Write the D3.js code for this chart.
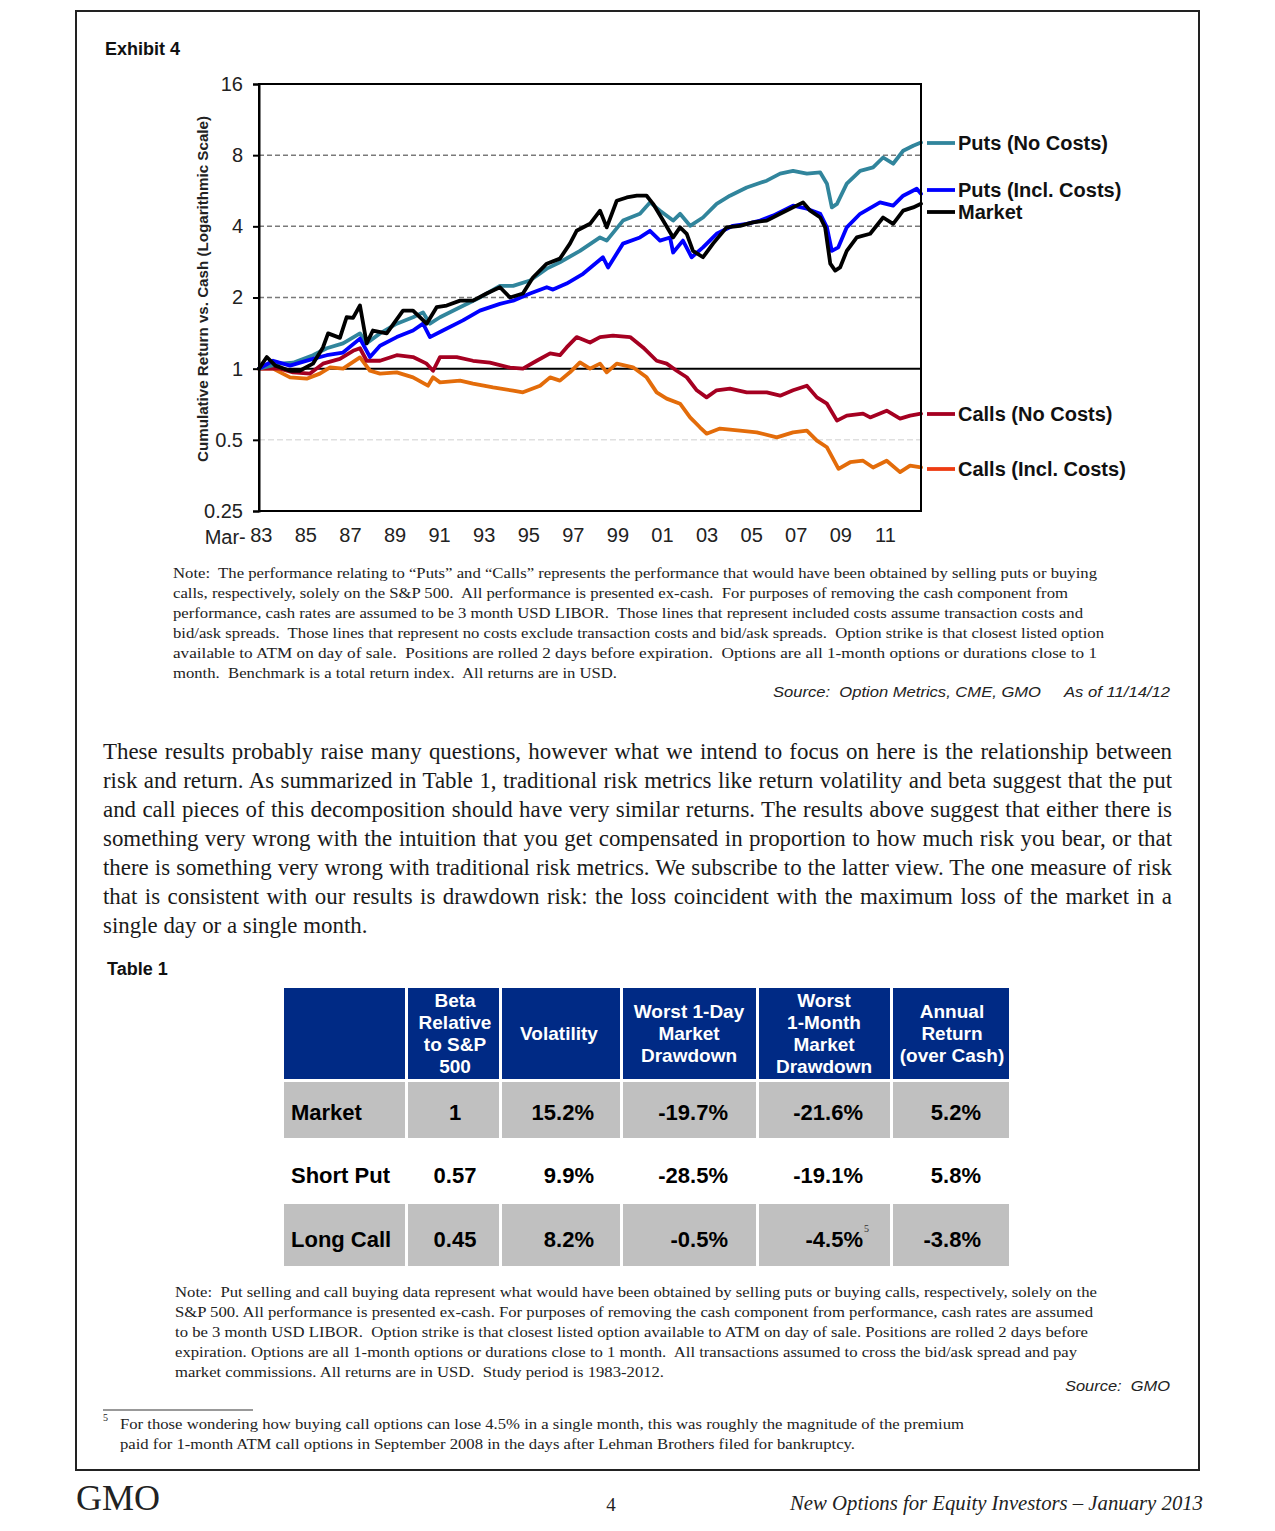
<!DOCTYPE html>
<html><head><meta charset="utf-8">
<script src="https://cdn.jsdelivr.net/npm/d3@7"></script>
<style>
html,body{margin:0;padding:0;background:#fff;}
svg{display:block;}
svg text{white-space:pre;}
</style></head>
<body>
<svg id="page" width="1275" height="1531"></svg>
<script>
// ---------- DATA ----------
const seriesNames = ["Puts (No Costs)","Puts (Incl. Costs)","Market","Calls (No Costs)","Calls (Incl. Costs)"];
const putsNoCosts = [[1983.17,1.00],[1984.11,1.05],[1984.7,1.06],[1985.59,1.14],[1986.21,1.22],[1986.94,1.28],[1987.7,1.41],[1988.0,1.28],[1988.6,1.41],[1989.35,1.55],[1990.08,1.65],[1990.53,1.73],[1990.84,1.55],[1991.29,1.65],[1992.19,1.82],[1993.08,2.00],[1993.98,2.24],[1994.57,2.24],[1995.33,2.36],[1996.08,2.65],[1996.67,2.82],[1997.57,3.15],[1998.47,3.59],[1998.77,3.48],[1999.5,4.23],[2000.26,4.52],[2000.71,5.05],[2001.16,4.66],[2001.75,4.23],[2002.06,4.52],[2002.51,4.02],[2003.09,4.36],[2003.7,4.98],[2004.3,5.39],[2005.05,5.84],[2005.95,6.24],[2006.55,6.68],[2007.13,6.87],[2007.75,6.68],[2008.35,6.76],[2008.65,6.06],[2008.87,4.81],[2009.1,4.98],[2009.54,6.06],[2010.14,6.87],[2010.72,7.10],[2011.17,7.82],[2011.62,7.36],[2012.07,8.35],[2012.52,8.77],[2012.87,9.05]];
const putsInclCosts = [[1983.17,1.00],[1983.8,1.08],[1984.56,1.03],[1985.59,1.10],[1986.21,1.14],[1986.94,1.17],[1987.7,1.34],[1988.15,1.12],[1988.6,1.25],[1989.35,1.36],[1990.08,1.45],[1990.53,1.55],[1990.84,1.36],[1991.42,1.45],[1992.32,1.60],[1993.08,1.76],[1993.98,1.88],[1994.57,1.94],[1995.33,2.08],[1996.08,2.21],[1996.36,2.16],[1996.97,2.29],[1997.71,2.52],[1998.6,2.96],[1998.83,2.68],[1999.5,3.38],[2000.26,3.59],[2000.71,3.83],[2001.16,3.48],[2001.61,3.59],[2001.75,3.10],[2002.19,3.48],[2002.58,2.96],[2003.09,3.26],[2003.7,3.72],[2004.43,4.02],[2005.05,4.10],[2005.65,4.23],[2006.23,4.44],[2007.13,4.89],[2007.75,4.75],[2008.35,4.52],[2008.65,3.96],[2008.87,3.15],[2009.16,3.26],[2009.54,3.96],[2010.14,4.52],[2011.03,5.05],[2011.62,4.89],[2012.07,5.39],[2012.68,5.77],[2012.87,5.49]];
const market = [[1983.17,1.00],[1983.52,1.12],[1983.9,1.03],[1984.56,0.98],[1985.0,0.98],[1985.59,1.05],[1986.04,1.23],[1986.27,1.41],[1986.8,1.35],[1987.1,1.65],[1987.39,1.64],[1987.7,1.85],[1988.0,1.28],[1988.28,1.45],[1988.9,1.41],[1989.63,1.76],[1990.08,1.76],[1990.69,1.55],[1991.14,1.82],[1991.59,1.85],[1992.19,1.94],[1992.77,1.94],[1993.38,2.08],[1993.98,2.21],[1994.43,2.00],[1995.01,2.08],[1995.46,2.43],[1996.08,2.78],[1996.67,2.92],[1997.12,3.38],[1997.42,3.83],[1998.02,4.10],[1998.47,4.66],[1998.77,3.96],[1999.22,5.13],[1999.67,5.30],[2000.12,5.39],[2000.56,5.39],[2000.85,4.98],[2001.3,4.23],[2001.75,3.59],[2002.06,3.96],[2002.36,3.72],[2002.64,3.15],[2003.09,2.96],[2003.54,3.38],[2004.15,3.96],[2004.75,4.02],[2005.33,4.16],[2005.95,4.23],[2006.55,4.52],[2007.13,4.81],[2007.58,5.05],[2007.9,4.66],[2008.35,4.36],[2008.57,3.96],[2008.8,2.78],[2009.02,2.60],[2009.24,2.68],[2009.54,3.15],[2009.99,3.59],[2010.59,3.72],[2011.17,4.36],[2011.62,4.10],[2012.07,4.66],[2012.52,4.81],[2012.87,4.98]];
const callsNoCosts = [[1983.17,1.00],[1984.11,1.00],[1984.7,0.965],[1985.46,0.953],[1986.04,1.05],[1986.8,1.10],[1987.39,1.19],[1987.7,1.22],[1988.0,1.08],[1988.6,1.08],[1989.35,1.14],[1990.08,1.12],[1990.69,1.05],[1990.98,0.98],[1991.29,1.12],[1992.04,1.12],[1992.77,1.08],[1993.53,1.06],[1994.43,1.01],[1995.01,1.00],[1995.63,1.08],[1996.23,1.16],[1996.67,1.14],[1996.97,1.23],[1997.42,1.36],[1998.02,1.29],[1998.47,1.36],[1999.05,1.38],[1999.82,1.36],[2000.4,1.23],[2001.01,1.08],[2001.46,1.05],[2001.91,0.98],[2002.36,0.92],[2002.81,0.81],[2003.25,0.756],[2003.7,0.81],[2004.3,0.823],[2005.05,0.794],[2005.95,0.794],[2006.55,0.769],[2007.13,0.81],[2007.75,0.847],[2008.2,0.756],[2008.65,0.711],[2009.1,0.603],[2009.54,0.633],[2010.27,0.645],[2010.59,0.622],[2011.33,0.664],[2011.93,0.615],[2012.38,0.633],[2012.87,0.645]];
const callsInclCosts = [[1983.17,1.00],[1983.8,1.00],[1984.56,0.919],[1985.31,0.907],[1985.9,0.953],[1986.36,1.013],[1986.94,1.00],[1987.7,1.116],[1988.15,0.98],[1988.6,0.953],[1989.35,0.965],[1990.08,0.919],[1990.75,0.847],[1990.98,0.919],[1991.29,0.875],[1992.19,0.89],[1992.77,0.864],[1993.67,0.833],[1994.57,0.807],[1995.01,0.794],[1995.78,0.847],[1996.23,0.919],[1996.67,0.89],[1997.12,0.965],[1997.57,1.063],[1998.02,1.00],[1998.47,1.05],[1998.77,0.965],[1999.22,1.05],[1999.95,1.013],[2000.56,0.919],[2001.01,0.794],[2001.46,0.747],[2002.06,0.711],[2002.51,0.622],[2002.95,0.565],[2003.25,0.531],[2003.85,0.558],[2004.75,0.547],[2005.5,0.538],[2006.4,0.512],[2007.13,0.538],[2007.75,0.547],[2008.2,0.496],[2008.65,0.465],[2009.17,0.377],[2009.69,0.402],[2010.27,0.408],[2010.72,0.382],[2011.33,0.408],[2011.93,0.365],[2012.38,0.389],[2012.87,0.382]];
const yTickValues = [0.25,0.5,1,2,4,8,16];
const yTickLabels = ["0.25","0.5","1","2","4","8","16"];
const xTickYears = [1983,1985,1987,1989,1991,1993,1995,1997,1999,2001,2003,2005,2007,2009,2011];
const xTickLabels = ["83","85","87","89","91","93","95","97","99","01","03","05","07","09","11"];

const tableRowLabels = ["Market","Short Put","Long Call"];
const tableHeaders = [["Beta","Relative","to S&P","500"],["Volatility"],["Worst 1-Day","Market","Drawdown"],["Worst","1-Month","Market","Drawdown"],["Annual","Return","(over Cash)"]];
const betaCol = ["1","0.57","0.45"];
const volatilityCol = ["15.2%","9.9%","8.2%"];
const worstDayCol = ["-19.7%","-28.5%","-0.5%"];
const worstMonthCol = ["-21.6%","-19.1%","-4.5%"];
const annualReturnCol = ["5.2%","5.8%","-3.8%"];

// ---------- PAGE ----------
const svg = d3.select("#page");
const SANS = "'Liberation Sans', Arial, sans-serif";
const SERIF = "'Liberation Serif', 'Times New Roman', serif";
svg.append("rect").attr("width",1275).attr("height",1531).attr("fill","#fff");
svg.append("rect").attr("x",76).attr("y",11).attr("width",1123).attr("height",1459)
  .attr("fill","none").attr("stroke","#222").attr("stroke-width",2);

svg.append("text").attr("x",105).attr("y",55).attr("font-family",SANS).attr("font-weight","bold")
  .attr("font-size",18).attr("fill","#111").text("Exhibit 4");

// ---------- CHART ----------
const L=259,R=921,T=84,B=511;
const x = d3.scaleLinear().domain([1983.17, 2012.87]).range([L,R]);
const y = d3.scaleLog().base(2).domain([0.25,16]).range([B,T]);
const chart = svg.append("g");

[8,4,2].forEach(v=>{
  chart.append("line").attr("x1",L).attr("x2",R).attr("y1",y(v)).attr("y2",y(v))
    .attr("stroke","#7a7a7a").attr("stroke-width",1.5).attr("stroke-dasharray","5,3");
});
chart.append("line").attr("x1",L).attr("x2",R).attr("y1",y(0.5)).attr("y2",y(0.5))
  .attr("stroke","#cfcfcf").attr("stroke-width",1).attr("stroke-dasharray","6,3");
chart.append("line").attr("x1",L).attr("x2",R).attr("y1",y(1)).attr("y2",y(1))
  .attr("stroke","#000").attr("stroke-width",2);

const lineGen = d3.line().x(d=>x(d[0])).y(d=>y(d[1])).curve(d3.curveLinear);
const series = [
  {name:seriesNames[4], data:callsInclCosts, color:"#E36C0A", marker:"#EE3C12", ly:469},
  {name:seriesNames[3], data:callsNoCosts, color:"#A50021", marker:"#A50021", ly:414},
  {name:seriesNames[0], data:putsNoCosts, color:"#31859C", marker:"#31859C", ly:143},
  {name:seriesNames[1], data:putsInclCosts, color:"#0000FF", marker:"#0000FF", ly:190},
  {name:seriesNames[2], data:market, color:"#000000", marker:"#000000", ly:212}
];
series.forEach(s=>{
  chart.append("path").datum(s.data).attr("d",lineGen).attr("fill","none")
    .attr("stroke",s.color).attr("stroke-width",3.8).attr("stroke-linejoin","round").attr("stroke-linecap","round");
});

chart.append("rect").attr("x",L).attr("y",T).attr("width",R-L).attr("height",B-T)
  .attr("fill","none").attr("stroke","#000").attr("stroke-width",2);

const yAxis = d3.axisLeft(y).tickValues(yTickValues).tickFormat((d,i)=>yTickLabels[i]).tickSize(6).tickPadding(10);
const gy = chart.append("g").attr("transform",`translate(${L},0)`).call(yAxis);
gy.select(".domain").attr("stroke","#000").attr("stroke-width",2);
gy.selectAll(".tick line").attr("stroke","#000").attr("stroke-width",2);
gy.selectAll(".tick text").attr("font-family",SANS).attr("font-size",20).attr("fill","#222");

const xAxis = d3.axisBottom(x).tickValues(xTickYears.map(v=>v+0.25)).tickFormat((d,i)=>xTickLabels[i]).tickSize(0).tickPadding(17);
const gx = chart.append("g").attr("transform",`translate(0,${B})`).call(xAxis);
gx.select(".domain").remove();
gx.selectAll(".tick text").attr("font-family",SANS).attr("font-size",20).attr("fill","#222");
chart.append("text").attr("x",x(1983.25)-15).attr("y",B+33).attr("text-anchor","end")
  .attr("font-family",SANS).attr("font-size",20).attr("fill","#222").text("Mar-");

chart.append("text").attr("transform",`translate(208,289) rotate(-90)`).attr("text-anchor","middle")
  .attr("font-family",SANS).attr("font-weight","bold").attr("font-size",14).attr("fill","#222")
  .attr("textLength",346).attr("lengthAdjust","spacingAndGlyphs")
  .text("Cumulative Return vs. Cash (Logarithmic Scale)");

series.forEach(s=>{
  chart.append("line").attr("x1",927).attr("x2",955).attr("y1",s.ly).attr("y2",s.ly)
    .attr("stroke",s.marker).attr("stroke-width",3.8);
  chart.append("text").attr("x",958).attr("y",s.ly+7).attr("font-family",SANS).attr("font-weight","bold")
    .attr("font-size",20).attr("fill","#111").text(s.name);
});

// ---------- TEXT HELPERS ----------
function fitText(str, x0, yb, x1, size, fam, opts={}){
  const t = svg.append("text").attr("x",x0).attr("y",yb).attr("font-family",fam).attr("font-size",size)
    .attr("fill",opts.fill||"#222").text(str);
  if(opts.italic) t.attr("font-style","italic");
  if(x1) t.attr("textLength",x1-x0).attr("lengthAdjust","spacingAndGlyphs");
  return t;
}
function justify(str, x0, yb, x1, size, fam){
  const t = svg.append("text").attr("x",x0).attr("y",yb).attr("font-family",fam).attr("font-size",size)
    .attr("fill","#1a1a1a").text(str);
  const w = t.node().getComputedTextLength();
  const n = (str.match(/ /g)||[]).length;
  if(n>0) t.style("word-spacing",((x1-x0-w)/n)+"px");
  return t;
}

const note1 = [
 ["Note:  The performance relating to \u201cPuts\u201d and \u201cCalls\u201d represents the performance that would have been obtained by selling puts or buying",1097],
 ["calls, respectively, solely on the S&P 500.  All performance is presented ex-cash.  For purposes of removing the cash component from",1068],
 ["performance, cash rates are assumed to be 3 month USD LIBOR.  Those lines that represent included costs assume transaction costs and",1083],
 ["bid/ask spreads.  Those lines that represent no costs exclude transaction costs and bid/ask spreads.  Option strike is that closest listed option",1104],
 ["available to ATM on day of sale.  Positions are rolled 2 days before expiration.  Options are all 1-month options or durations close to 1",1097],
 ["month.  Benchmark is a total return index.  All returns are in USD.",617]
];
note1.forEach((l,i)=>fitText(l[0],173,578+i*20,l[1],15,SERIF));
fitText("Source:  Option Metrics, CME, GMO",773,697,1041,15,SANS,{italic:true});
fitText("As of 11/14/12",1064,697,1170,15,SANS,{italic:true});

const para = [
 "These results probably raise many questions, however what we intend to focus on here is the relationship between",
 "risk and return. As summarized in Table 1, traditional risk metrics like return volatility and beta suggest that the put",
 "and call pieces of this decomposition should have very similar returns. The results above suggest that either there is",
 "something very wrong with the intuition that you get compensated in proportion to how much risk you bear, or that",
 "there is something very wrong with traditional risk metrics. We subscribe to the latter view. The one measure of risk",
 "that is consistent with our results is drawdown risk: the loss coincident with the maximum loss of the market in a"
];
para.forEach((l,i)=>justify(l,103,759+i*29,1172,22.9,SERIF));
svg.append("text").attr("x",103).attr("y",759+6*29).attr("font-family",SERIF).attr("font-size",22.9)
  .attr("fill","#1a1a1a").text("single day or a single month.");

// ---------- TABLE ----------
svg.append("text").attr("x",107).attr("y",975).attr("font-family",SANS).attr("font-weight","bold")
  .attr("font-size",18).attr("fill","#111").text("Table 1");
const colEdges = [284,406,500,621,757,891,1009];
const tg = svg.append("g");
tg.append("rect").attr("x",284).attr("y",988).attr("width",1009-284).attr("height",91).attr("fill","#002A85");
const rowTops = [1082,1141,1204], rowBots=[1138,1201,1266], rowFill=["#C0C0C0","#ffffff","#C0C0C0"];
rowTops.forEach((t,i)=>tg.append("rect").attr("x",284).attr("y",t).attr("width",1009-284).attr("height",rowBots[i]-t).attr("fill",rowFill[i]));
colEdges.slice(1,-1).forEach(e=>{
  tg.append("rect").attr("x",e-1).attr("y",988).attr("width",3).attr("height",1266-988).attr("fill","#fff");
});
const headerCenters = [455,559,689,824,952];
tableHeaders.forEach((lines,ci)=>{
  const n = lines.length, cy = 1033;
  lines.forEach((ln,li)=>{
    tg.append("text").attr("x",headerCenters[ci]).attr("y",cy+(li-(n-1)/2)*22+7).attr("text-anchor","middle")
      .attr("font-family",SANS).attr("font-weight","bold").attr("font-size",19).attr("fill","#fff").text(ln);
  });
});
const rowCenters = [1112,1175,1239];
const bodyCols = [
  {vals:betaCol, x:455, anchor:"middle"},
  {vals:volatilityCol, x:594, anchor:"end"},
  {vals:worstDayCol, x:728, anchor:"end"},
  {vals:worstMonthCol, x:863, anchor:"end"},
  {vals:annualReturnCol, x:981, anchor:"end"}
];
tableRowLabels.forEach((lab,ri)=>{
  tg.append("text").attr("x",291).attr("y",rowCenters[ri]+8).attr("font-family",SANS).attr("font-weight","bold")
    .attr("font-size",22).attr("fill","#000").text(lab);
  bodyCols.forEach(c=>{
    tg.append("text").attr("x",c.x).attr("y",rowCenters[ri]+8).attr("text-anchor",c.anchor)
      .attr("font-family",SANS).attr("font-weight","bold").attr("font-size",22).attr("fill","#000").text(c.vals[ri]);
  });
});
tg.append("text").attr("x",864).attr("y",1232).attr("font-family",SERIF).attr("font-size",10).attr("fill","#333").text("5");

const note2 = [
 ["Note:  Put selling and call buying data represent what would have been obtained by selling puts or buying calls, respectively, solely on the",1097],
 ["S&P 500. All performance is presented ex-cash. For purposes of removing the cash component from performance, cash rates are assumed",1093],
 ["to be 3 month USD LIBOR.  Option strike is that closest listed option available to ATM on day of sale. Positions are rolled 2 days before",1088],
 ["expiration. Options are all 1-month options or durations close to 1 month.  All transactions assumed to cross the bid/ask spread and pay",1077],
 ["market commissions. All returns are in USD.  Study period is 1983-2012.",664]
];
note2.forEach((l,i)=>fitText(l[0],175,1297+i*20,l[1],15,SERIF));
fitText("Source:  GMO",1065,1391,1170,15,SANS,{italic:true});

svg.append("line").attr("x1",103).attr("x2",253).attr("y1",1410).attr("y2",1410).attr("stroke","#777").attr("stroke-width",1.5);
svg.append("text").attr("x",103).attr("y",1421).attr("font-family",SERIF).attr("font-size",10).attr("fill","#222").text("5");
fitText("For those wondering how buying call options can lose 4.5% in a single month, this was roughly the magnitude of the premium",120,1429,964,15,SERIF);
fitText("paid for 1-month ATM call options in September 2008 in the days after Lehman Brothers filed for bankruptcy.",120,1449,855,15,SERIF);

fitText("GMO",76,1510,160,36,SERIF,{fill:"#222"});
svg.append("text").attr("x",611).attr("y",1511).attr("text-anchor","middle").attr("font-family",SERIF).attr("font-size",19).attr("fill","#222").text("4");
fitText("New Options for Equity Investors \u2013 January 2013",790,1510,1203,20,SERIF,{italic:true});
</script>
</body></html>
